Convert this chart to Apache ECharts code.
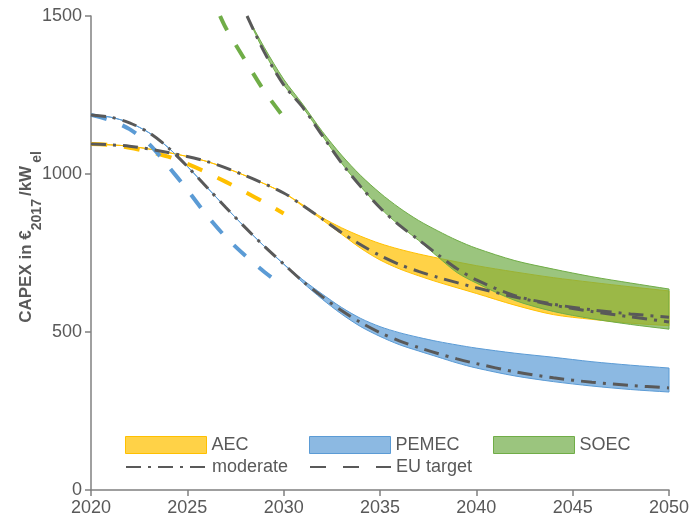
<!DOCTYPE html>
<html>
<head>
<meta charset="utf-8">
<script src="https://cdn.jsdelivr.net/npm/echarts@6/dist/echarts.min.js"></script>
<style>
  html, body { margin: 0; padding: 0; background: #ffffff; }
  #chart { width: 692px; height: 517px; }
</style>
</head>
<body>
<div id="chart"></div>
<script>
// ---- Axis ticks ----
const xTicks = [2020, 2025, 2030, 2035, 2040, 2045, 2050];
const yTicks = [0, 500, 1000, 1500];

// ---- AEC (alkaline electrolysis) ----
const aecYears    = [2020, 2022, 2024, 2026, 2028, 2030, 2031, 2032, 2033, 2034, 2035, 2036, 2037, 2038, 2040, 2042, 2044, 2046, 2048, 2050];
const aecModerate = [1095, 1088, 1068, 1040, 995, 940, 900, 858, 815, 776, 742, 714, 692, 673, 640, 611, 585, 565, 548, 532];
const aecUpper    = [1095, 1088, 1068, 1040, 995, 940, 902, 862, 830, 803, 780, 762, 747, 734, 710, 690, 672, 657, 643, 630];
const aecLower    = [1095, 1088, 1068, 1040, 995, 940, 898, 855, 810, 765, 728, 700, 678, 658, 622, 585, 555, 540, 528, 520];
const aecEuYears  = [2020, 2021, 2022, 2023, 2024, 2025, 2026, 2027, 2028, 2029, 2030];
const aecEu       = [1095, 1092, 1083, 1070, 1055, 1032, 1005, 975, 943, 910, 875];

// ---- PEMEC (proton exchange membrane) ----
const pemYears    = [2020, 2021, 2022, 2023, 2024, 2025, 2026, 2027, 2028, 2029, 2030, 2031, 2032, 2033, 2034, 2035, 2036, 2037, 2038, 2039, 2040, 2042, 2044, 2046, 2048, 2050];
const pemModerate = [1187, 1180, 1162, 1131, 1084, 1024, 959, 894, 831, 771, 715, 660, 612, 568, 530, 498, 472, 451, 432, 415, 400, 374, 355, 341, 331, 323];
const pemUpper    = [1187, 1180, 1162, 1131, 1084, 1024, 959, 894, 831, 771, 715, 665, 620, 578, 543, 517, 498, 483, 470, 459, 449, 433, 420, 406, 395, 386];
const pemLower    = [1187, 1180, 1162, 1131, 1084, 1024, 959, 894, 831, 771, 715, 656, 604, 557, 517, 486, 460, 440, 421, 402, 386, 361, 343, 329, 318, 310];
const pemEuYears  = [2020, 2021, 2022, 2023, 2024, 2025, 2026, 2027, 2028, 2029, 2030];
const pemEu       = [1187, 1170, 1142, 1096, 1025, 950, 870, 800, 742, 690, 645];

// ---- SOEC (solid oxide) ----
const soeYears    = [2028.1, 2029, 2030, 2031, 2032, 2033, 2034, 2035, 2036, 2037, 2038, 2039, 2040, 2042, 2044, 2046, 2048, 2050];
const soeModerate = [1500, 1385, 1282, 1210, 1122, 1035, 960, 893, 838, 792, 745, 700, 665, 615, 588, 570, 557, 547];
const soeUpper    = [1500, 1400, 1300, 1220, 1135, 1060, 995, 940, 893, 853, 820, 790, 765, 726, 699, 675, 655, 636];
const soeLower    = [1500, 1385, 1282, 1210, 1122, 1035, 960, 893, 838, 790, 738, 688, 655, 600, 565, 542, 524, 509];
const soeEuYears  = [2026.7, 2027, 2028, 2029, 2030];
const soeEu       = [1500, 1462, 1360, 1262, 1180];

// ---- Styling ----
const FONT = "'Liberation Sans', Arial, sans-serif";
const TEXT = '#595959';
const AXIS = '#808080';
const DARK = '#595959';
const C_AEC = '#ffc000', C_PEM = '#5b9bd5', C_SOE = '#70ad47';
const F_AEC = 'rgba(255,192,0,0.72)', F_PEM = 'rgba(91,155,213,0.7)', F_SOE = 'rgba(112,173,71,0.7)';
const SMOOTH = 0.3;
const DASHDOT = [15, 7, 3, 7];
const DASH = [16, 17];
const HIDDEN_MARK = { color: 'rgba(0,0,0,0)', borderColor: 'rgba(0,0,0,0)', borderWidth: 0, opacity: 0 };

const pairs = (xs, ys) => xs.map((x, i) => [x, ys[i]]);

// Cubic segments through pixel points, same control-point rule as a smoothed line
function bezierSegs(pts, s) {
  const n = pts.length;
  const cps = [];
  for (let i = 0; i < n; i++) {
    const p = pts[i], prev = pts[i - 1] || p, next = pts[i + 1] || p;
    const vx = next[0] - prev[0], vy = next[1] - prev[1];
    const d0 = Math.hypot(p[0] - prev[0], p[1] - prev[1]);
    const d1 = Math.hypot(next[0] - p[0], next[1] - p[1]);
    const sum = (d0 + d1) || 1;
    cps.push([
      [p[0] - vx * s * d0 / sum, p[1] - vy * s * d0 / sum],
      [p[0] + vx * s * d1 / sum, p[1] + vy * s * d1 / sum]
    ]);
  }
  let d = '';
  for (let i = 1; i < n; i++) {
    const a = cps[i - 1][1], b = cps[i][0], p = pts[i];
    d += ' C' + a[0] + ',' + a[1] + ' ' + b[0] + ',' + b[1] + ' ' + p[0] + ',' + p[1];
  }
  return d;
}

// Shaded range between an upper and a lower cost path
function bandSeries(name, years, upper, lower, fill, stroke, z) {
  return {
    type: 'custom',
    name: name,
    coordinateSystem: 'cartesian2d',
    data: [[years[0], upper[0]]],
    encode: { x: 0, y: 1 },
    z: z,
    silent: true,
    renderItem: function (params, api) {
      const up = years.map((y, i) => api.coord([y, upper[i]]));
      const lo = years.map((y, i) => api.coord([y, lower[i]])).reverse();
      const d = 'M' + up[0][0] + ',' + up[0][1] + bezierSegs(up, SMOOTH) +
                ' L' + lo[0][0] + ',' + lo[0][1] + bezierSegs(lo, SMOOTH) + ' Z';
      return {
        type: 'path',
        shape: { pathData: d },
        style: { fill: fill, stroke: stroke, lineWidth: 1 }
      };
    }
  };
}

function lineSeries(name, xs, ys, color, width, dash, z) {
  return {
    type: 'line',
    name: name,
    data: pairs(xs, ys),
    smooth: SMOOTH,
    symbol: 'none',
    z: z,
    silent: true,
    lineStyle: { color: color, width: width, type: dash, cap: 'butt' }
  };
}

const legendBase = {
  orient: 'horizontal',
  itemWidth: 81,
  itemHeight: 17,
  padding: 0,
  selectedMode: false,
  textStyle: { fontSize: 18, color: TEXT, fontFamily: FONT }
};

const axisCommon = {
  axisLine: { show: true, lineStyle: { color: AXIS, width: 1.5 } },
  axisTick: { show: true, inside: false, length: 6, lineStyle: { color: AXIS, width: 1.5 } },
  axisLabel: { color: TEXT, fontSize: 18, fontFamily: FONT, margin: 9, formatter: v => String(v) },
  splitLine: { show: false }
};

const chart = echarts.init(document.getElementById('chart'), null, { renderer: 'canvas' });
chart.setOption({
  animation: false,
  backgroundColor: '#ffffff',
  grid: { left: 91, right: 23, top: 16, bottom: 27, containLabel: false, outerBoundsMode: 'none' },
  xAxis: Object.assign({
    type: 'value',
    min: xTicks[0],
    max: xTicks[xTicks.length - 1],
    interval: xTicks[1] - xTicks[0]
  }, axisCommon),
  yAxis: Object.assign({
    type: 'value',
    min: yTicks[0],
    max: yTicks[yTicks.length - 1],
    interval: yTicks[1] - yTicks[0],
    name: '{a|CAPEX in €}{s|2017}{k|/kW}{s|el}',
    nameLocation: 'middle',
    nameRotate: 90,
    nameGap: 47,
    nameMoveOverlap: false,
    nameTextStyle: {
      padding: [0, 0, 0, 32],
      rich: {
        a: { fontSize: 17, fontWeight: 'bold', color: TEXT, fontFamily: FONT, lineHeight: 36 },
        k: { fontSize: 17, fontWeight: 'bold', color: TEXT, fontFamily: FONT, lineHeight: 36, padding: [0, 3, 0, 3] },
        s: { fontSize: 14, fontWeight: 'bold', color: TEXT, fontFamily: FONT, lineHeight: 14, verticalAlign: 'bottom' }
      }
    }
  }, axisCommon),
  legend: [
    Object.assign({ left: 125, top: 436, data: [{ name: 'AEC', icon: 'rect', itemStyle: { color: F_AEC, borderColor: C_AEC, borderWidth: 1 } }] }, legendBase),
    Object.assign({ left: 309, top: 436, data: [{ name: 'PEMEC', icon: 'rect', itemStyle: { color: F_PEM, borderColor: C_PEM, borderWidth: 1 } }] }, legendBase),
    Object.assign({ left: 493, top: 436, data: [{ name: 'SOEC', icon: 'rect', itemStyle: { color: F_SOE, borderColor: C_SOE, borderWidth: 1 } }] }, legendBase),
    Object.assign({ left: 125, top: 458, data: [{ name: 'moderate', itemStyle: HIDDEN_MARK }] }, legendBase),
    Object.assign({ left: 309, top: 458, data: [{ name: 'EU target', itemStyle: HIDDEN_MARK }] }, legendBase)
  ],
  series: [
    bandSeries('AEC', aecYears, aecUpper, aecLower, F_AEC, C_AEC, 1),
    bandSeries('PEMEC', pemYears, pemUpper, pemLower, F_PEM, C_PEM, 2),
    bandSeries('SOEC', soeYears, soeUpper, soeLower, F_SOE, C_SOE, 3),
    lineSeries('AEC EU target', aecEuYears, aecEu, C_AEC, 4, DASH, 4),
    lineSeries('PEMEC EU target', pemEuYears, pemEu, C_PEM, 4, DASH, 4),
    lineSeries('SOEC EU target', soeEuYears, soeEu, C_SOE, 4, DASH, 4),
    lineSeries('AEC moderate', aecYears, aecModerate, DARK, 3, DASHDOT, 5),
    lineSeries('PEMEC moderate', pemYears, pemModerate, DARK, 3, DASHDOT, 5),
    lineSeries('SOEC moderate', soeYears, soeModerate, DARK, 3, DASHDOT, 5),
    // legend keys for the two scenario line styles
    { type: 'line', name: 'moderate', data: [], symbol: 'none', color: DARK, lineStyle: { color: DARK, width: 3, type: DASHDOT, cap: 'butt' } },
    { type: 'line', name: 'EU target', data: [], symbol: 'none', color: DARK, lineStyle: { color: DARK, width: 4, type: DASH, cap: 'butt' } }
  ]
});
</script>
</body>
</html>
